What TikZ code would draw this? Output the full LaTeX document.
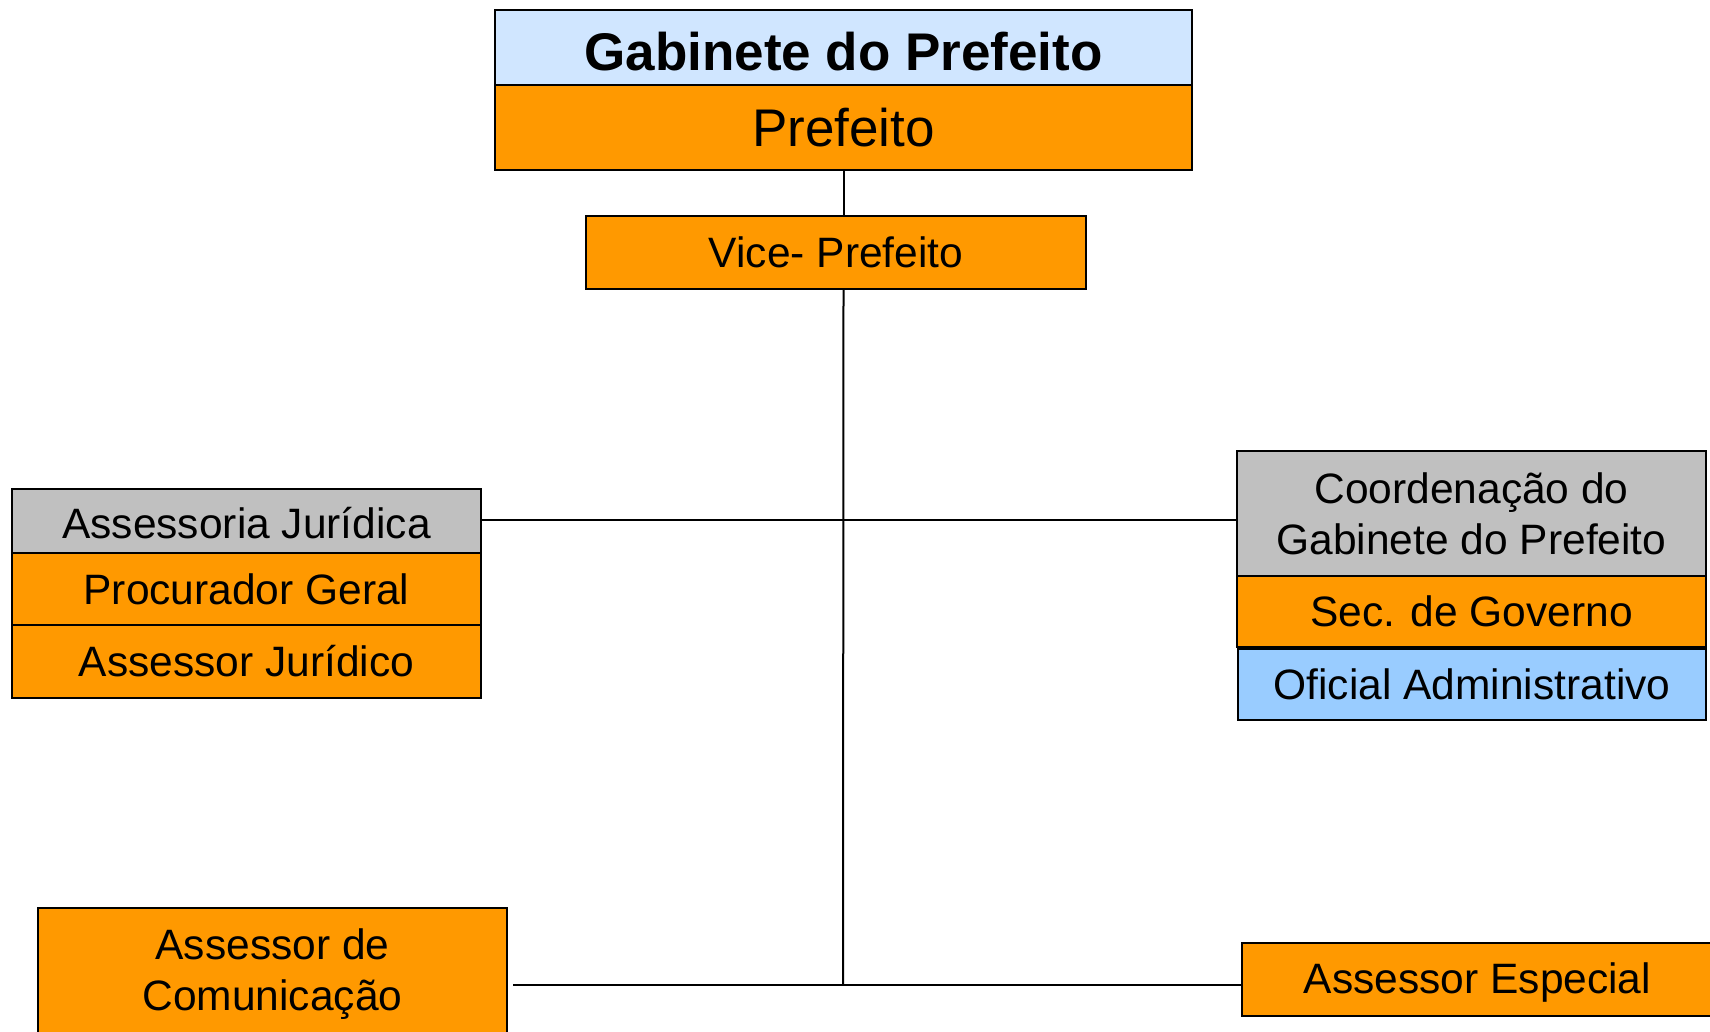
\documentclass[tikz,border=0pt]{standalone}
\usepackage{fontspec}
\setmainfont{Liberation Sans}
\definecolor{orgbox}{RGB}{255,153,0}
\definecolor{graybox}{RGB}{192,192,192}
\definecolor{headblue}{RGB}{208,230,255}
\definecolor{offblue}{RGB}{153,204,255}
\begin{document}
\begin{tikzpicture}[x=1pt,y=-1pt,
  box/.style={draw=black, line width=2pt, inner sep=0pt, align=center,
    font=\fontsize{42.5}{51}\selectfont},
  bigbox/.style={box, font=\fontsize{53}{60}\selectfont},
  conn/.style={draw=black, line width=2pt}]
\clip (0,0) rectangle (1710,1032);
\useasboundingbox (0,0) rectangle (1710,1032);
% top
\node[bigbox, fill=headblue, minimum width=697pt, minimum height=75pt, text height=47pt, text depth=0pt] (gab) at (843.5,47.5) {\bfseries Gabinete do Prefeito};
\node[bigbox, fill=orgbox, minimum width=697pt, minimum height=85pt] (pref) at (843.5,127.5) {Prefeito};
\node[box, fill=orgbox, minimum width=500pt, minimum height=73pt] (vice) at (836,252.5) {Vice- Prefeito};
% left group
\node[box, fill=graybox, minimum width=469pt, minimum height=64pt, text height=34pt, text depth=0pt] (aj) at (246.5,521) {Assessoria Jurídica};
\node[box, fill=orgbox, minimum width=469pt, minimum height=72pt] (pg) at (246.5,589) {Procurador Geral};
\node[box, fill=orgbox, minimum width=469pt, minimum height=73pt] (ajr) at (246.5,661.5) {Assessor Jurídico};
% right group
\node[box, fill=graybox, minimum width=469pt, minimum height=125pt] (coord) at (1471.5,513.5) {Coordenação do\\Gabinete do Prefeito};
\node[box, fill=orgbox, minimum width=469pt, minimum height=71pt] (sec) at (1471.5,611.5) {Sec. de Governo};
\node[box, fill=offblue, minimum width=468pt, minimum height=71pt] (ofi) at (1472,684.5) {Oficial Administrativo};
% bottom
\node[box, fill=orgbox, minimum width=469pt, minimum height=133pt] (com) at (272.5,974.5) {Assessor de\\Comunicação};
\node[box, fill=orgbox, minimum width=471pt, minimum height=73pt, text height=28pt, text depth=0pt] (esp) at (1477.5,979.5) {Assessor Especial};
% connectors
\coordinate (jb) at (843,985);
\coordinate (lb) at (513,985);
\draw[conn] (pref.south) -- (pref.south |- vice.north);
\draw[conn] (pref.south |- vice.south) -- (jb);
\draw[conn] (aj.east |- 0,520) -- (coord.west |- 0,520);
\draw[conn] (lb) -- (esp.west |- jb);
\end{tikzpicture}
\end{document}
